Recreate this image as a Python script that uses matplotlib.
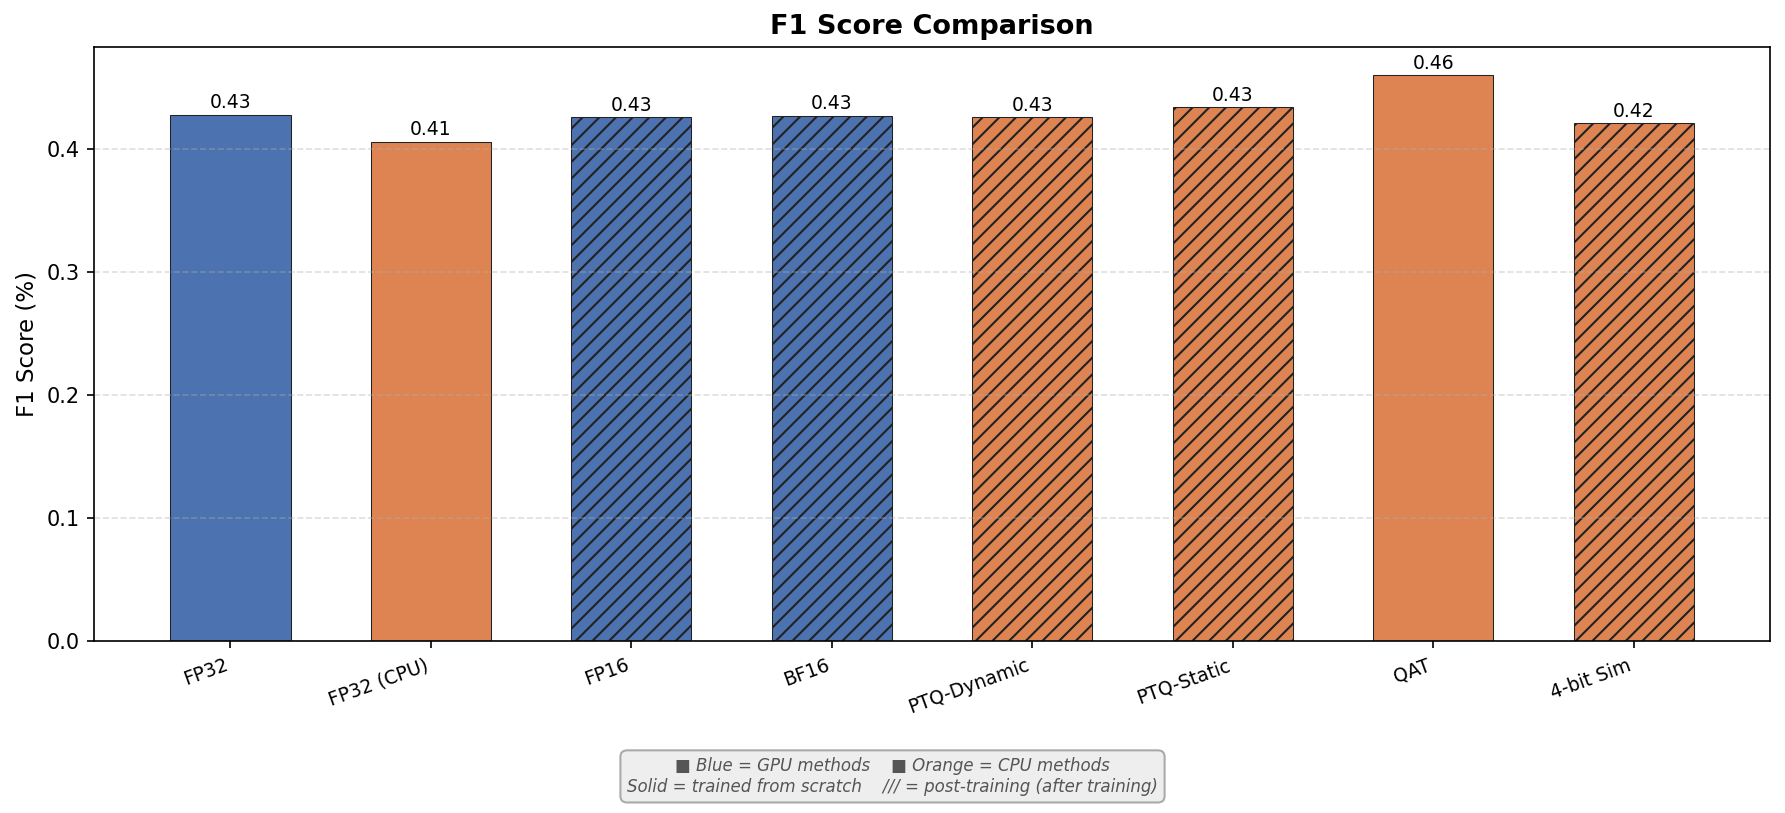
import matplotlib
matplotlib.use('Agg')
from matplotlib import pyplot as plt

methods = ["FP32", "FP32 (CPU)", "FP16", "BF16", "PTQ-Dynamic", "PTQ-Static", "QAT", "4-bit Sim"]
f1_scores = [0.428, 0.406, 0.426, 0.427, 0.426, 0.434, 0.460, 0.421]
devices = ["GPU", "CPU", "GPU", "GPU", "CPU", "CPU", "CPU", "CPU"]
post_training = [False, False, True, True, True, True, False, True]

colours = {"GPU": "#4C72B0", "CPU": "#DD8452"}

fig = plt.figure(figsize=(11.9, 5.42), dpi=150)
ax = fig.add_axes([0.0527, 0.2116, 0.9389, 0.7306])

x = range(len(methods))
bars = ax.bar(x, f1_scores, width=0.6,
              color=[colours[d] for d in devices],
              edgecolor="#222222", linewidth=0.5)
for b, hatched in zip(bars, post_training):
    if hatched:
        b.set_hatch("///")

for b, v in zip(bars, f1_scores):
    ax.text(b.get_x() + b.get_width() / 2, v + 0.002, f"{v:.2f}",
            ha="center", va="bottom", fontsize=9)

ax.set_xticks(list(x))
ax.set_xticklabels(methods, rotation=20, ha="right", fontsize=9)
ax.set_ylabel("F1 Score (%)", fontsize=11)
ax.set_title("F1 Score Comparison", fontsize=13, fontweight="bold")
ax.yaxis.grid(True, linestyle="--", alpha=0.4)

note = ("■ Blue = GPU methods    ■ Orange = CPU methods\n"
        "Solid = trained from scratch    /// = post-training (after training)")
fig.text(0.5, 0.045, note, ha="center", va="center", fontsize=8,
         style="italic", color="#555555",
         bbox=dict(boxstyle="round,pad=0.4", facecolor="#eeeeee", edgecolor="#aaaaaa"))

plt.savefig("out.png", dpi=150)
